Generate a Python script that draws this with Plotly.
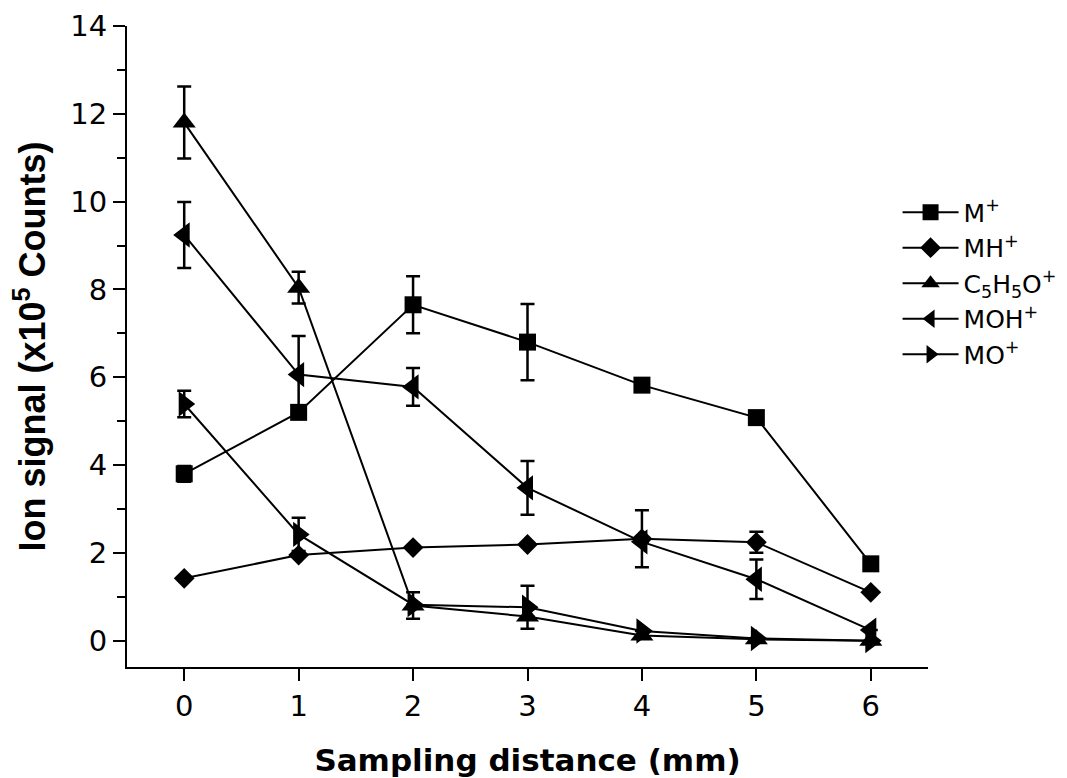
import plotly.graph_objects as go

distance = [0, 1, 2, 3, 4, 5, 6]

m_plus = [3.80, 5.20, 7.65, 6.80, 5.82, 5.08, 1.75]
m_plus_err = [0.18, 0.0, 0.65, 0.87, 0.0, 0.0, 0.0]

mh_plus = [1.42, 1.95, 2.12, 2.19, 2.32, 2.24, 1.10]
mh_plus_err = [0.0, 0.0, 0.0, 0.0, 0.65, 0.24, 0.0]

c5h5o_plus = [11.80, 8.04, 0.80, 0.55, 0.12, 0.03, 0.0]
c5h5o_plus_err = [0.82, 0.36, 0.30, 0.0, 0.0, 0.0, 0.0]

moh_plus = [9.24, 6.06, 5.78, 3.48, 2.25, 1.40, 0.24]
moh_plus_err = [0.75, 0.88, 0.43, 0.61, 0.0, 0.45, 0.0]

mo_plus = [5.39, 2.42, 0.82, 0.76, 0.22, 0.05, 0.0]
mo_plus_err = [0.30, 0.38, 0.0, 0.49, 0.0, 0.0, 0.0]

names = ["M<sup>+</sup>", "MH<sup>+</sup>", "C<sub>5</sub>H<sub>5</sub>O<sup>+</sup>",
         "MOH<sup>+</sup>", "MO<sup>+</sup>"]
symbols = ["square", "diamond", "triangle-up", "triangle-left", "triangle-right"]
sizes = [17, 16, 20, 22, 22]
series = [m_plus, mh_plus, c5h5o_plus, moh_plus, mo_plus]
errors = [m_plus_err, mh_plus_err, c5h5o_plus_err, moh_plus_err, mo_plus_err]

fig = go.Figure()
for name, sym, sz, ys, es in zip(names, symbols, sizes, series, errors):
    fig.add_trace(go.Scatter(
        x=distance, y=ys, name=name, mode="lines+markers",
        line=dict(color="black", width=2),
        marker=dict(symbol=sym, size=sz, color="black"),
        error_y=dict(type="data", array=es, visible=True, color="black",
                     thickness=2.5, width=7),
    ))

fig.update_layout(
    width=1067, height=778,
    margin=dict(l=127, r=139, t=26, b=111, autoexpand=False),
    paper_bgcolor="white", plot_bgcolor="white",
    font=dict(family="DejaVu Sans", color="black"),
    showlegend=True,
    legend=dict(x=0.962, y=0.745, xanchor="left", yanchor="top",
                font=dict(size=25, family="DejaVu Sans"),
                bgcolor="rgba(0,0,0,0)", tracegroupgap=0, itemwidth=56),
    xaxis=dict(
        range=[-0.5, 6.5], tickmode="array", tickvals=distance,
        ticks="outside", ticklen=12, tickwidth=2, tickcolor="black",
        showline=True, linecolor="black", linewidth=2,
        showgrid=False, zeroline=False, automargin=False,
        tickfont=dict(size=29),
        title=dict(text="<b>Sampling distance (mm)</b>",
                   font=dict(size=31, family="DejaVu Sans"), standoff=30),
    ),
    yaxis=dict(
        range=[-0.6, 14], tickmode="linear", tick0=0, dtick=2,
        ticks="outside", ticklen=12, tickwidth=2, tickcolor="black",
        minor=dict(dtick=1, tick0=0, ticks="outside", ticklen=8, tickwidth=2, tickcolor="black"),
        showline=True, linecolor="black", linewidth=2,
        showgrid=False, zeroline=False, automargin=False,
        tickfont=dict(size=29),
        title=dict(text="<b>Ion signal (x10<sup>5</sup> Counts)</b>",
                   font=dict(size=36, family="Liberation Sans"), standoff=14),
    ),
)

fig.write_html("out.html")
